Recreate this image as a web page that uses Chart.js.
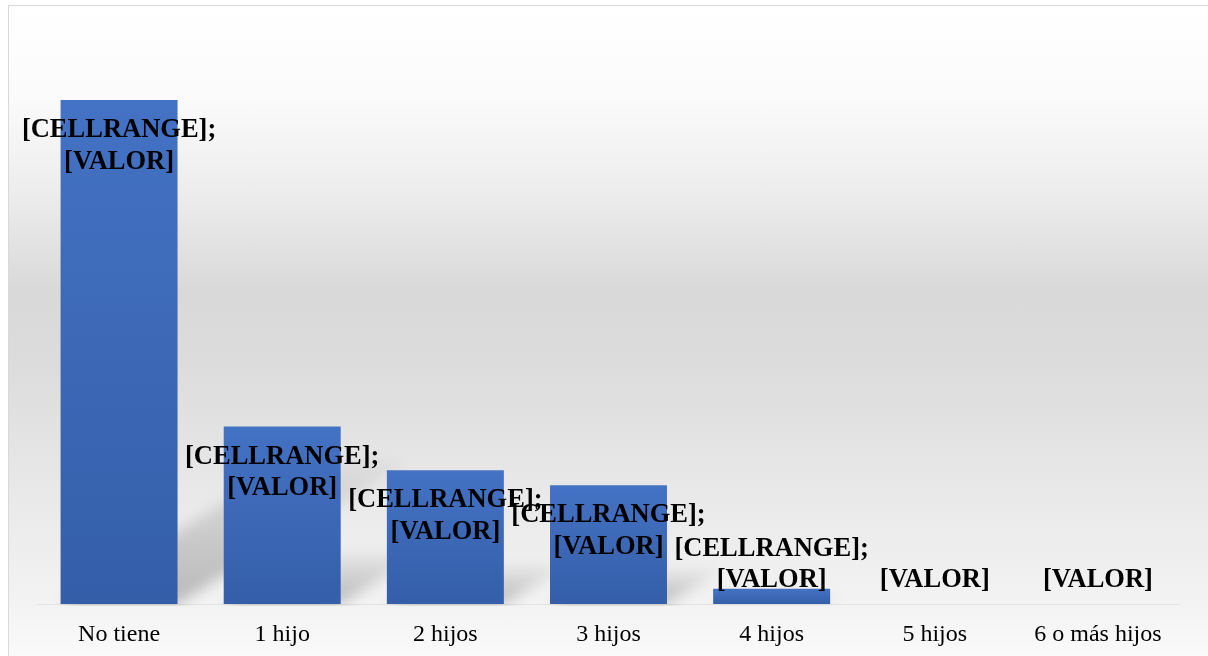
<!DOCTYPE html>
<html>
<head>
<meta charset="utf-8">
<script src="https://cdn.jsdelivr.net/npm/chart.js@4.4.1/dist/chart.umd.min.js"></script>
<style>
  html, body { margin: 0; padding: 0; background: #fff; }
  #wrap { position: relative; width: 1208px; height: 656px; overflow: hidden; }
  #frame {
    position: absolute; left: 8px; top: 5px; width: 1220px; height: 670px;
    border: 1px solid #d9d9d9; box-sizing: border-box;
    background: linear-gradient(to bottom,
      #ffffff 0px, #fbfbfb 90px, #ececec 190px, #d9d9d9 285px,
      #dcdcdc 360px, #e8e8e8 480px, #f3f3f3 600px, #fafafa 651px);
  }
  #chart { position: absolute; left: 0; top: 0; }
</style>
</head>
<body>
<div id="wrap">
  <div id="frame"></div>
  <canvas id="chart" width="1208" height="656"></canvas>
</div>
<script>
// categories and values (percent)
const categories = ['No tiene', '1 hijo', '2 hijos', '3 hijos', '4 hijos', '5 hijos', '6 o más hijos'];
const values = [53.1, 18.7, 14.1, 12.5, 1.6, 0, 0];
// data label lines as shown in the picture (unresolved field codes)
const pointLabels = [
  ['[CELLRANGE];', '[VALOR]'],
  ['[CELLRANGE];', '[VALOR]'],
  ['[CELLRANGE];', '[VALOR]'],
  ['[CELLRANGE];', '[VALOR]'],
  ['[CELLRANGE];', '[VALOR]'],
  ['[VALOR]'],
  ['[VALOR]']
];

const SERIF = "'Liberation Serif', 'Times New Roman', serif";

function barFill(c) {
  const chart = c.chart;
  const y = chart.scales && chart.scales.y;
  if (!chart.chartArea || !y) return '#4472c4';
  const top = y.getPixelForValue(values[c.dataIndex]);
  const bot = y.getPixelForValue(0);
  if (bot - top < 1) return '#4472c4';
  const g = chart.ctx.createLinearGradient(0, top, 0, bot);
  g.addColorStop(0, '#4472c4');
  g.addColorStop(1, '#345ea8');
  return g;
}

// soft perspective shadow behind each bar
const shadowPlugin = {
  id: 'barShadow',
  beforeDatasetsDraw(chart) {
    const ctx = chart.ctx;
    const area = chart.chartArea;
    const meta = chart.getDatasetMeta(0);
    ctx.save();
    ctx.beginPath();
    ctx.rect(area.left, area.top, area.right - area.left, area.bottom - area.top + 2);
    ctx.clip();
    ctx.filter = 'blur(7px)';
    meta.data.forEach(bar => {
      const h = bar.base - bar.y;
      if (h < 2) return;
      const L = bar.x - bar.width / 2, R = bar.x + bar.width / 2;
      const sh = h * 0.28, dx = sh / 0.62;
      const g = ctx.createLinearGradient(0, bar.base, 0, bar.base - sh);
      g.addColorStop(0, 'rgba(0,0,0,0.24)');
      g.addColorStop(1, 'rgba(0,0,0,0.04)');
      ctx.fillStyle = g;
      ctx.beginPath();
      ctx.moveTo(L, bar.base);
      ctx.lineTo(R, bar.base);
      ctx.lineTo(R + dx, bar.base - sh);
      ctx.lineTo(L + dx, bar.base - sh);
      ctx.closePath();
      ctx.fill();
    });
    ctx.restore();
  }
};

// two-line data labels, inside end, kept above the baseline
const labelPlugin = {
  id: 'barLabels',
  afterDatasetsDraw(chart) {
    const ctx = chart.ctx;
    const meta = chart.getDatasetMeta(0);
    const lineH = 31.5;
    ctx.save();
    ctx.font = 'bold 26.5px ' + SERIF;
    ctx.fillStyle = '#000';
    ctx.textAlign = 'center';
    ctx.textBaseline = 'middle';
    meta.data.forEach((bar, i) => {
      const lines = pointLabels[i];
      const blockH = lines.length * lineH;
      let cy = bar.y + 46;
      cy = Math.min(cy, bar.base - 8 - blockH / 2);
      const y0 = cy - blockH / 2 + lineH / 2;
      lines.forEach((t, k) => ctx.fillText(t, bar.x, y0 + k * lineH));
    });
    ctx.restore();
  }
};

new Chart(document.getElementById('chart'), {
  type: 'bar',
  data: {
    labels: categories,
    datasets: [{
      data: values,
      backgroundColor: barFill,
      borderWidth: 0,
      categoryPercentage: 1,
      barPercentage: 0.717
    }]
  },
  options: {
    responsive: false,
    animation: false,
    layout: { padding: { left: 37.5, right: 28.5, top: 34.5, bottom: 9 } },
    plugins: { legend: { display: false }, tooltip: { enabled: false } },
    scales: {
      y: { display: false, min: 0, max: 60 },
      x: {
        grid: { display: false, drawTicks: false },
        border: { display: true, color: '#e4e4e4', width: 1 },
        ticks: {
          padding: 16.5,
          color: '#000',
          font: { family: SERIF, size: 24 },
          maxRotation: 0
        },
        afterFit(scale) { scale.height = 43; }
      }
    }
  },
  plugins: [shadowPlugin, labelPlugin]
});
</script>
</body>
</html>
